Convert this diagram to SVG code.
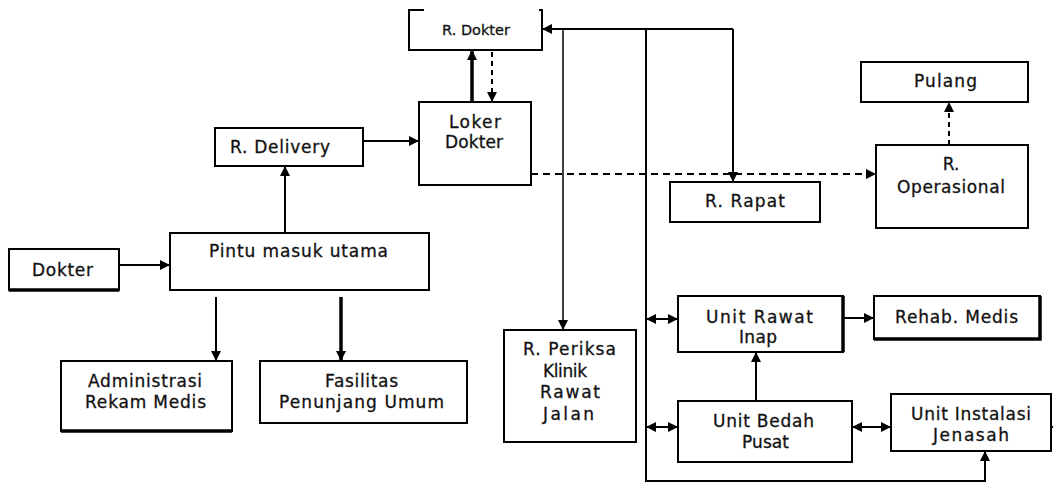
<svg xmlns="http://www.w3.org/2000/svg" width="1053" height="484" viewBox="0 0 1053 484">
  <style>
    .box { fill: #ffffff; stroke: #000000; stroke-width: 2; }
    .edge { fill: none; stroke: #000000; stroke-width: 3.5; }
    .lbl { font-family: "DejaVu Sans", "Liberation Sans", sans-serif; font-size: 17px; fill: #111111; stroke: #111111; stroke-width: 0.3; text-anchor: middle; }
    .ln { fill: none; stroke: #000000; stroke-width: 2; }
    .thin { stroke-width: 1.5; }
    .thick { stroke-width: 3.5; }
    .dash { stroke-dasharray: 7 5; }
    .dash-s { stroke-dasharray: 5 4; }
  </style>
  <defs>
    <marker id="ah" viewBox="0 0 10 10" refX="10" refY="5" markerWidth="10" markerHeight="10" markerUnits="userSpaceOnUse" orient="auto-start-reverse">
      <path d="M0,0 L10,5 L0,10 z" fill="#000000"/>
    </marker>
  </defs>

  <rect width="1053" height="484" fill="#ffffff"/>

  <!-- connectors -->
  <g id="connectors">
    <path class="ln" d="M119,265 H170" marker-end="url(#ah)"/>
    <path class="ln" d="M285,233 V166" marker-end="url(#ah)"/>
    <path class="ln" d="M363,141 H419" marker-end="url(#ah)"/>
    <path class="ln thick" d="M472,102 V50" marker-end="url(#ah)"/>
    <path class="ln dash-s" d="M492,52 V102" marker-end="url(#ah)"/>
    <path class="ln" d="M216,297 V361" marker-end="url(#ah)"/>
    <path class="ln thick" d="M341,297 V361" marker-end="url(#ah)"/>
    <!-- upper distribution line -->
    <path class="ln" d="M733,29 H542" marker-end="url(#ah)"/>
    <path class="ln" d="M733,29 V182" marker-end="url(#ah)"/>
    <path class="ln thin" d="M563,29 V330" marker-end="url(#ah)"/>
    <!-- main spine -->
    <path class="ln" d="M646,29 V481 H985 V451" marker-end="url(#ah)"/>
    <path class="ln" d="M646,319 H678" marker-start="url(#ah)" marker-end="url(#ah)"/>
    <path class="ln" d="M646,427 H678" marker-start="url(#ah)" marker-end="url(#ah)"/>
    <path class="ln" d="M852,427 H891" marker-start="url(#ah)" marker-end="url(#ah)"/>
    <path class="ln" d="M843,318 H874" marker-end="url(#ah)"/>
    <path class="ln" d="M756,401 V352" marker-end="url(#ah)"/>
    <path class="ln" d="M1051,427 H1053"/>
    <!-- dashed routes -->
    <path class="ln dash" d="M531,174 H876" marker-end="url(#ah)"/>
    <path class="ln dash-s" d="M949,145 V102" marker-end="url(#ah)"/>
  </g>

  <!-- nodes -->
  <g id="r-dokter">
    <path d="M424,10 H409 V50 H542 V10 H539" fill="#ffffff" stroke="#000000" stroke-width="2"/>
    <text class="lbl" x="476" y="35" style="font-size:14.5px">R. Dokter</text>
  </g>

  <g id="loker-dokter">
    <rect class="box" x="419" y="102" width="112" height="83"/>
    <text class="lbl" x="475" y="128" textLength="52">Loker</text>
    <text class="lbl" x="474" y="148" textLength="58">Dokter</text>
  </g>

  <g id="r-delivery">
    <rect class="box" x="215" y="128" width="148" height="38"/>
    <text class="lbl" x="280" y="153" textLength="100">R. Delivery</text>
  </g>

  <g id="pintu-masuk-utama">
    <rect class="box" x="170" y="233" width="259" height="57"/>
    <text class="lbl" x="298.5" y="257" textLength="179">Pintu masuk utama</text>
  </g>

  <g id="dokter">
    <rect class="box" x="9" y="249" width="110" height="41"/>
    <path class="edge" d="M9,290 H119"/>
    <text class="lbl" x="62.5" y="276" textLength="61">Dokter</text>
  </g>

  <g id="administrasi-rekam-medis">
    <rect class="box" x="61" y="361" width="171" height="70"/>
    <path class="edge" d="M61,431 H232"/>
    <text class="lbl" x="145" y="387" textLength="114">Administrasi</text>
    <text class="lbl" x="145.5" y="408" textLength="121">Rekam Medis</text>
  </g>

  <g id="fasilitas-penunjang-umum">
    <rect class="box" x="260" y="361" width="207" height="62"/>
    <text class="lbl" x="361.5" y="387" textLength="73">Fasilitas</text>
    <text class="lbl" x="361.5" y="408" textLength="165">Penunjang Umum</text>
  </g>

  <g id="r-rapat">
    <rect class="box" x="670" y="182" width="150" height="40"/>
    <text class="lbl" x="745" y="207" textLength="80">R. Rapat</text>
  </g>

  <g id="r-operasional">
    <rect class="box" x="876" y="145" width="152" height="83"/>
    <text class="lbl" x="951" y="170">R.</text>
    <text class="lbl" x="951" y="193" textLength="108">Operasional</text>
  </g>

  <g id="pulang">
    <rect class="box" x="861" y="62" width="167" height="40"/>
    <text class="lbl" x="945.5" y="87" textLength="63">Pulang</text>
  </g>

  <g id="r-periksa-klinik-rawat-jalan">
    <rect class="box" x="504" y="330" width="132" height="112"/>
    <text class="lbl" x="569.5" y="355" textLength="93">R. Periksa</text>
    <text class="lbl" x="565" y="377" textLength="44">Klinik</text>
    <text class="lbl" x="570" y="398" textLength="60">Rawat</text>
    <text class="lbl" x="568.5" y="420" textLength="51">Jalan</text>
  </g>

  <g id="unit-rawat-inap">
    <rect class="box" x="678" y="296" width="165" height="56"/>
    <path class="edge" d="M843,296 V352"/>
    <text class="lbl" x="759.5" y="323" textLength="107">Unit Rawat</text>
    <text class="lbl" x="758" y="343" textLength="38">Inap</text>
  </g>

  <g id="unit-bedah-pusat">
    <rect class="box" x="678" y="401" width="174" height="61"/>
    <text class="lbl" x="763.5" y="427" textLength="101">Unit Bedah</text>
    <text class="lbl" x="765.5" y="448" textLength="47">Pusat</text>
  </g>

  <g id="rehab-medis">
    <rect class="box" x="874" y="296" width="166" height="43"/>
    <path class="edge" d="M874,339 H1040 V296"/>
    <text class="lbl" x="956.5" y="323" textLength="123">Rehab. Medis</text>
  </g>

  <g id="unit-instalasi-jenasah">
    <rect class="box" x="891" y="394" width="160" height="57"/>
    <text class="lbl" x="971" y="420" textLength="120">Unit Instalasi</text>
    <text class="lbl" x="971" y="441" textLength="76">Jenasah</text>
  </g>
</svg>
